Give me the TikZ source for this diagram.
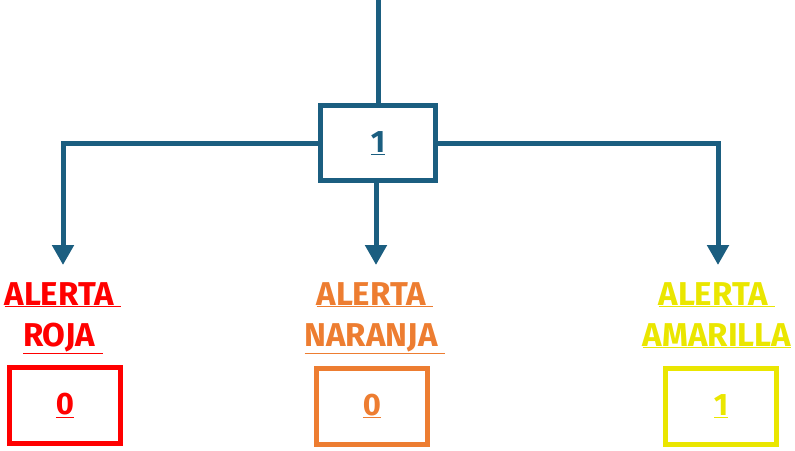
\documentclass[tikz,border=0pt]{standalone}
\usepackage{fontspec}
\setmainfont{Fira Sans}
\usetikzlibrary{arrows.meta}
\definecolor{lineblue}{HTML}{1B5E80}
\definecolor{alred}{HTML}{FF0000}
\definecolor{alorange}{HTML}{ED7D31}
\definecolor{alyellow}{HTML}{EAE600}
\tikzset{
  conn/.style={draw=lineblue, line width=5pt},
  arr/.style={conn, -{Triangle[width=21pt,length=20pt]}},
  valbox/.style={draw, line width=5pt, minimum width=111pt, minimum height=76pt, inner sep=0pt,
     font=\fontsize{31}{31}\selectfont\bfseries},
  lbl/.style={anchor=base, inner sep=0pt, font=\fontsize{33}{33}\selectfont\bfseries},
}
\begin{document}
\begin{tikzpicture}[x=1pt,y=-1pt]
\useasboundingbox (0,0) rectangle (795,450);
\node[valbox, draw=lineblue, text=lineblue, minimum width=115pt, minimum height=75pt] (c) at (378,143) {\underline{1}};
\coordinate (top) at (378,0);
\coordinate (tl) at (63,265);
\coordinate (tm) at (376,265);
\coordinate (tr) at (718,265);
\draw[conn] (top) -- (c.north);
\draw[arr] (c.west) -| (tl);
\draw[arr] (c.east) -| (tr);
\draw[arr] (c.south -| tm) -- (tm);

\node[lbl, text=alred] (r1) at (63,305) {\underline{ALERTA\ }};
\node[lbl, text=alred] (r2) at (63,346) {\underline{ROJA\ }};
\node[valbox, draw=alred, text=alred] (rb) at (65,405.5) {\underline{0}};

\node[lbl, text=alorange] (o1) at (375,305) {\underline{ALERTA\ }};
\node[lbl, text=alorange] (o2) at (375,346) {\underline{NARANJA\ }};
\node[valbox, draw=alorange, text=alorange] (ob) at (372,406) {\underline{0}};

\node[lbl, text=alyellow] (y1) at (717,305) {\underline{ALERTA\ }};
\node[lbl, text=alyellow] (y2) at (717,346) {\underline{AMARILLA}};
\node[valbox, draw=alyellow, text=alyellow] (yb) at (721,406) {\underline{1}};
\end{tikzpicture}
\end{document}
